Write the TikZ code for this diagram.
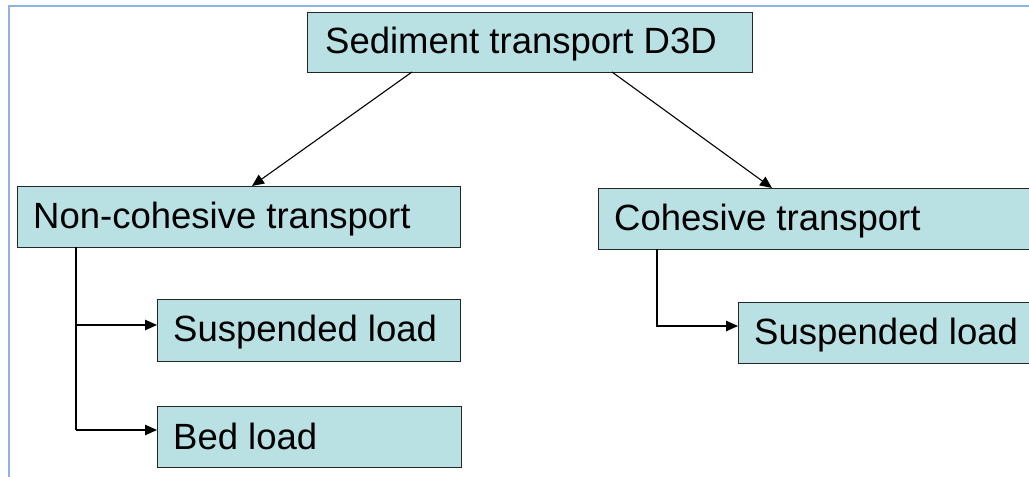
\documentclass[tikz,border=0pt]{standalone}
\usepackage{fontspec}
\setmainfont{Liberation Sans}
\usetikzlibrary{arrows.meta}
\definecolor{boxfill}{RGB}{185,224,227}
\definecolor{frameblue}{RGB}{141,179,226}
\begin{document}
\begin{tikzpicture}[x=1bp,y=-1bp,
  tbox/.style={draw=black!85,line width=1.3bp,fill=boxfill,rectangle,inner sep=0pt,anchor=north west},
  lbl/.style={anchor=base west,inner sep=0pt,font=\fontsize{36.5bp}{40bp}\selectfont},
  conn/.style={line width=1.1bp,-{Triangle[length=12bp,width=10.5bp]}},
  plain/.style={line width=1.1bp}]
\useasboundingbox (0,0) rectangle (1029,477);
\clip (0,0) rectangle (1029,477);
\draw[frameblue,line width=2bp] (1040,6.5) -- (9,6.5) -- (9,490);
% boxes
\node[tbox,minimum width=445bp,minimum height=60bp] (top) at (307,12) {};
\node[tbox,minimum width=443bp,minimum height=61bp] (nc) at (17,186) {};
\node[tbox,minimum width=460bp,minimum height=61bp] (co) at (598,188) {};
\node[tbox,minimum width=303bp,minimum height=62bp] (ncs) at (157,299) {};
\node[tbox,minimum width=304bp,minimum height=61bp] (ncb) at (157,406) {};
\node[tbox,minimum width=320bp,minimum height=61bp] (cos) at (738,302) {};
% labels
\node[lbl] (ltop) at (325,54) {Sediment transport D3D};
\node[lbl] (lnc) at (33,229) {Non-cohesive transport};
\node[lbl] (lco) at (614,231) {Cohesive transport};
\node[lbl] (lncs) at (173,342) {Suspended load};
\node[lbl] (lncb) at (173,449) {Bed load};
\node[lbl] (lcos) at (754,345) {Suspended load};
% connectors
\coordinate (t1) at (412,72);
\coordinate (t2) at (612,72);
\coordinate (n1) at (252,186);
\coordinate (c1) at (772,188);
\draw[conn] (t1) -- (n1);
\draw[conn] (t2) -- (c1);
\coordinate (nv) at (76,247);
\coordinate (nvs) at (76,325);
\coordinate (nvb) at (76,430);
\draw[plain] (nv) -- (nvb);
\draw[conn] (nvs) -- (ncs.west |- nvs);
\draw[conn] (nvb) -- (ncb.west |- nvb);
\coordinate (cv) at (657,249);
\coordinate (cvs) at (657,326);
\draw[conn] (cv) -- (cvs) -- (cos.west |- cvs);
\end{tikzpicture}
\end{document}
